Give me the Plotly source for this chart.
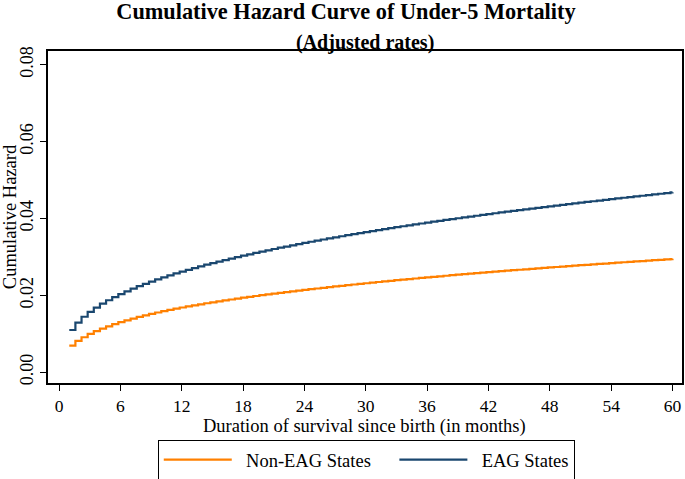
import plotly.graph_objects as go

# Time grid (months) at which the step curves change
months = [1.0, 1.6, 2.2, 2.8, 3.4, 4.0, 4.6, 5.2, 5.8, 6.4,
          7.0, 7.6, 8.2, 8.8, 9.4, 10.0, 10.6, 11.2, 11.8, 12.4,
          13.0, 13.6, 14.2, 14.8, 15.4, 16.0, 16.6, 17.2, 17.8, 18.4,
          19.0, 19.6, 20.2, 20.8, 21.4, 22.0, 22.6, 23.2, 23.8, 24.4,
          25.0, 25.6, 26.2, 26.8, 27.4, 28.0, 28.6, 29.2, 29.8, 30.4,
          31.0, 31.6, 32.2, 32.8, 33.4, 34.0, 34.6, 35.2, 35.8, 36.4,
          37.0, 37.6, 38.2, 38.8, 39.4, 40.0, 40.6, 41.2, 41.8, 42.4,
          43.0, 43.6, 44.2, 44.8, 45.4, 46.0, 46.6, 47.2, 47.8, 48.4,
          49.0, 49.6, 50.2, 50.8, 51.4, 52.0, 52.6, 53.2, 53.8, 54.4,
          55.0, 55.6, 56.2, 56.8, 57.4, 58.0, 58.6, 59.2, 59.8, 60.0]

# Cumulative hazard, Non-EAG states
non_eag = [0.00693, 0.00820, 0.00912, 0.00997, 0.01073, 0.01136, 0.01196, 0.01253, 0.01304, 0.01353,
           0.01398, 0.01441, 0.01482, 0.01519, 0.01555, 0.01590, 0.01623, 0.01654, 0.01686, 0.01715,
           0.01742, 0.01769, 0.01796, 0.01821, 0.01846, 0.01870, 0.01894, 0.01917, 0.01940, 0.01962,
           0.01984, 0.02005, 0.02026, 0.02047, 0.02067, 0.02087, 0.02106, 0.02125, 0.02144, 0.02162,
           0.02180, 0.02198, 0.02216, 0.02233, 0.02250, 0.02267, 0.02284, 0.02300, 0.02316, 0.02332,
           0.02349, 0.02365, 0.02380, 0.02395, 0.02410, 0.02425, 0.02440, 0.02454, 0.02469, 0.02483,
           0.02497, 0.02511, 0.02525, 0.02538, 0.02552, 0.02565, 0.02578, 0.02591, 0.02604, 0.02617,
           0.02630, 0.02642, 0.02655, 0.02667, 0.02679, 0.02691, 0.02703, 0.02715, 0.02727, 0.02739,
           0.02750, 0.02762, 0.02773, 0.02785, 0.02796, 0.02807, 0.02818, 0.02829, 0.02840, 0.02851,
           0.02862, 0.02873, 0.02883, 0.02894, 0.02904, 0.02915, 0.02925, 0.02935, 0.02946, 0.02950]

# Cumulative hazard, EAG states
eag = [0.01100, 0.01293, 0.01445, 0.01573, 0.01684, 0.01784, 0.01874, 0.01957, 0.02034, 0.02107,
       0.02175, 0.02240, 0.02301, 0.02359, 0.02415, 0.02469, 0.02521, 0.02571, 0.02619, 0.02666,
       0.02712, 0.02755, 0.02798, 0.02840, 0.02880, 0.02920, 0.02959, 0.02996, 0.03033, 0.03069,
       0.03105, 0.03139, 0.03173, 0.03207, 0.03240, 0.03271, 0.03303, 0.03334, 0.03365, 0.03395,
       0.03424, 0.03454, 0.03482, 0.03511, 0.03538, 0.03566, 0.03593, 0.03620, 0.03646, 0.03672,
       0.03698, 0.03723, 0.03749, 0.03774, 0.03798, 0.03822, 0.03846, 0.03870, 0.03894, 0.03917,
       0.03939, 0.03962, 0.03985, 0.04007, 0.04029, 0.04051, 0.04072, 0.04094, 0.04115, 0.04136,
       0.04157, 0.04177, 0.04198, 0.04218, 0.04238, 0.04258, 0.04278, 0.04298, 0.04317, 0.04337,
       0.04356, 0.04374, 0.04393, 0.04412, 0.04431, 0.04449, 0.04467, 0.04486, 0.04504, 0.04522,
       0.04539, 0.04557, 0.04574, 0.04592, 0.04609, 0.04626, 0.04643, 0.04660, 0.04677, 0.04680]

x_ticks = [0, 6, 12, 18, 24, 30, 36, 42, 48, 54, 60]
y_ticks = [0.00, 0.02, 0.04, 0.06, 0.08]
y_tick_labels = ["0.00", "0.02", "0.04", "0.06", "0.08"]

series_names = ["Non-EAG States", "EAG States"]
series_colors = ["#ff8000", "#1a476f"]

FONT = "Liberation Serif, Times New Roman, serif"
NB = "\u00a0"

fig = go.Figure()
for i, (name, vals, col) in enumerate(zip(series_names, [non_eag, eag], series_colors)):
    label = NB * 2 + name + (NB * 4 if i == 0 else "")
    fig.add_trace(go.Scatter(
        x=months, y=vals, mode="lines", name=label,
        line=dict(color=col, width=2.2, shape="hv"),
    ))

fig.update_layout(
    width=685, height=479,
    margin=dict(l=48, r=3, t=51, b=96, autoexpand=False),
    paper_bgcolor="white", plot_bgcolor="white",
    font=dict(family=FONT, color="black", size=17),
    title=dict(text="<b>Cumulative Hazard Curve of Under-5 Mortality</b>",
               x=0.505, xanchor="center", xref="container", y=0.977, yref="container",
               yanchor="middle",
               font=dict(family=FONT, size=22.3, color="black")),
    showlegend=True,
    legend=dict(orientation="h", x=0.502, xanchor="center", y=-0.172, yanchor="top",
                bordercolor="black", borderwidth=1, bgcolor="white",
                itemwidth=68, font=dict(family=FONT, size=18.5, color="black"),
                traceorder="normal"),
    annotations=[
        dict(text="<b>(Adjusted rates)</b>", xref="paper", yref="paper",
             x=0.5, y=1.027, xanchor="center", yanchor="middle",
             showarrow=False, font=dict(family=FONT, size=20, color="black")),
        dict(text="Duration of survival since birth (in months)", xref="paper", yref="paper",
             x=0.4992, y=-0.1325, xanchor="center", yanchor="middle",
             showarrow=False, font=dict(family=FONT, size=18.5, color="black")),
    ],
)

fig.update_xaxes(
    range=[-1.08, 60.93], tickvals=x_ticks, ticktext=[str(v) for v in x_ticks],
    ticks="outside", ticklen=6, tickwidth=1.3, tickcolor="black",
    showline=True, linecolor="black", linewidth=2, mirror=True,
    showgrid=False, zeroline=False, automargin=False, ticklabelstandoff=0,
    tickfont=dict(family=FONT, size=17.5, color="black"),
)
fig.update_yaxes(
    range=[-0.00278, 0.08356], tickvals=y_ticks, ticktext=y_tick_labels,
    ticks="outside", ticklen=6, tickwidth=1.3, tickcolor="black",
    showline=True, linecolor="black", linewidth=2, mirror=True,
    showgrid=False, zeroline=False, tickangle=-90, automargin=False,
    title=dict(text="Cumulative Hazard", standoff=4,
               font=dict(family=FONT, size=18.5, color="black")),
    tickfont=dict(family=FONT, size=18, color="black"),
)

fig.write_html("out.html", config={"displayModeBar": False},
               post_script="document.body.style.margin='0';")
